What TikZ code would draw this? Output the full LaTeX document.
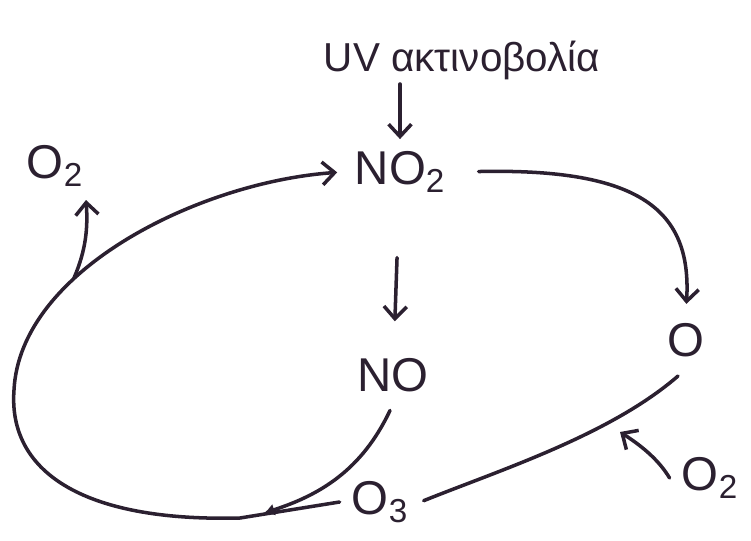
\documentclass[tikz,border=0pt]{standalone}
\usepackage{fontspec}
\setmainfont{Liberation Sans}
\usetikzlibrary{arrows.meta}
\definecolor{ink}{HTML}{2B2030}

\begin{document}
\begin{tikzpicture}[x=0.02cm,y=-0.02cm,
		line width=2pt, draw=ink, text=ink,
		arr/.style={-{Straight Barb[length=7pt,width=13pt,line width=2pt]}, line cap=round},
		spec/.style={inner sep=6pt, font=\fontsize{27}{30}\selectfont}]
		\useasboundingbox (0,0) rectangle (751,541);
		
		\node (uv) at (462,60) {\fontsize{23}{26}\selectfont UV ακτινοβολία};
		\node[spec] (no2) at (400,172) {NO\textsubscript{2}};
		\node[spec] (no) at (393,375) {NO};
		\node[spec] (o) at (686,340) {O};
		\node[spec] (o3) at (380,502) {O\textsubscript{3}};
		\node[spec] (o2a) at (55,166) {O\textsubscript{2}};
		\node[spec] (o2b) at (710,478) {O\textsubscript{2}};
		
		\coordinate (uvtail) at (400,84);
		\coordinate (split) at (74,278);
		\coordinate (o2tip) at (86,200);
		\coordinate (join) at (264,513);
		\coordinate (hit) at (620,432);
		
		\draw[arr] (uvtail) -- (no2);
		\draw[arr, shorten <=30pt, shorten >=14pt] (no2) -- (no);
		\draw[arr, shorten <=12pt, shorten >=4pt] (no2.east) .. controls (640,168) and (692,210) .. (o.north);
		\draw[arr, shorten >=3pt] (o3.west) -- (240,518) .. controls (80,522) and (8,470) .. (14,390) .. controls (20,270) and (200,182) .. (no2.west);
		\draw[arr] (split) .. controls (86,250) and (88,228) .. (o2tip);
		\draw[-{Latex[length=6pt,width=7pt]}, line cap=round, shorten <=4pt] (no.south) .. controls (362,470) and (320,495) .. (join);
		\draw[line cap=round, shorten <=6pt, shorten >=2pt] (o.south) .. controls (610,435) and (500,470) .. (o3.east);
		\draw[arr] (o2b.west) .. controls (660,462) and (645,448) .. (hit);
\end{tikzpicture}
\end{document}
